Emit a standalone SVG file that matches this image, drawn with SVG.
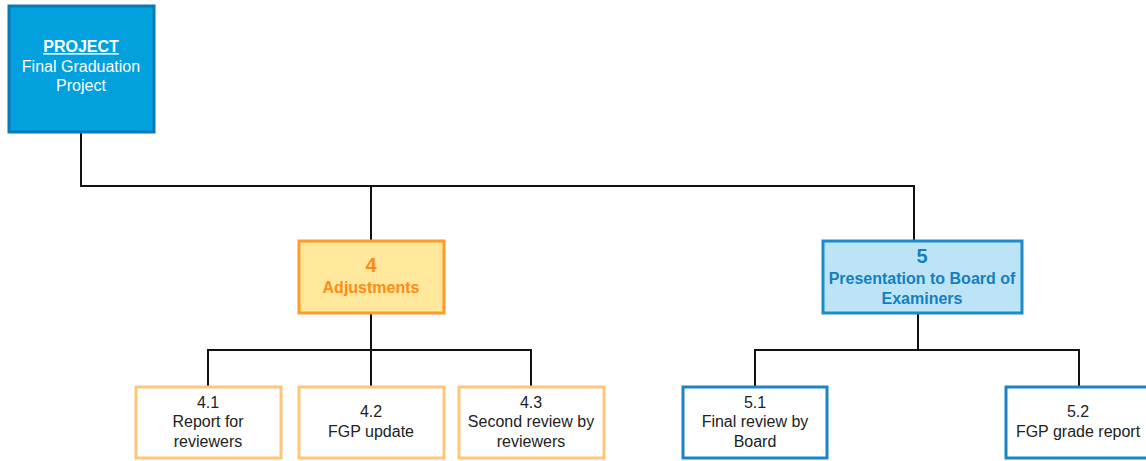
<svg xmlns="http://www.w3.org/2000/svg" width="1146" height="461" viewBox="0 0 1146 461">
  <style>
    text { font-family: "Liberation Sans", Arial, sans-serif; font-size: 16px; text-anchor: middle; }
    .wire { fill: none; stroke: #111; stroke-width: 2; }
    .root rect { fill: #02a0dd; stroke: #0a79b8; stroke-width: 3; }
    .root text { fill: #ffffff; }
    .orange rect { fill: #ffe89c; stroke: #ff9b28; stroke-width: 3; }
    .orange text { fill: #ff8a14; font-weight: bold; }
    .blue rect { fill: #bde4f6; stroke: #1a8ccc; stroke-width: 3; }
    .blue text { fill: #147fc0; font-weight: bold; }
    .leaf-o rect { fill: #ffffff; stroke: #ffc67a; stroke-width: 3; }
    .leaf-b rect { fill: #ffffff; stroke: #1a84c6; stroke-width: 3; }
    .leaf-o text, .leaf-b text { fill: #222; }
    .num { font-size: 20px; }
  </style>

  <g id="connectors">
    <path class="wire" d="M81 132 V186 H914 V240 M371 186 V240"/>
    <path class="wire" d="M371 313 V350 M208 386 V350 H531 V386 M371 350 V386"/>
    <path class="wire" d="M918 313 V350 M755 386 V350 H1079 V386"/>
  </g>

  <g id="project" class="root">
    <rect x="9" y="6" width="145" height="126"/>
    <text x="81" y="52" font-weight="bold" text-decoration="underline">PROJECT</text>
    <text x="81" y="72">Final Graduation</text>
    <text x="81" y="91">Project</text>
  </g>

  <g id="n4" class="orange">
    <rect x="299" y="241" width="145" height="72"/>
    <text class="num" x="371" y="272">4</text>
    <text x="371" y="293">Adjustments</text>
  </g>

  <g id="n5" class="blue">
    <rect x="823" y="241" width="199" height="72"/>
    <text class="num" x="922" y="263">5</text>
    <text x="922" y="284">Presentation to Board of</text>
    <text x="922" y="304">Examiners</text>
  </g>

  <g id="n41" class="leaf-o">
    <rect x="136" y="387" width="145" height="71"/>
    <text x="208" y="408">4.1</text>
    <text x="208" y="427">Report for</text>
    <text x="208" y="447">reviewers</text>
  </g>

  <g id="n42" class="leaf-o">
    <rect x="299" y="387" width="145" height="71"/>
    <text x="371" y="417">4.2</text>
    <text x="371" y="437">FGP update</text>
  </g>

  <g id="n43" class="leaf-o">
    <rect x="459" y="387" width="145" height="71"/>
    <text x="531" y="408">4.3</text>
    <text x="531" y="427">Second review by</text>
    <text x="531" y="447">reviewers</text>
  </g>

  <g id="n51" class="leaf-b">
    <rect x="683" y="387" width="144" height="71"/>
    <text x="755" y="408">5.1</text>
    <text x="755" y="427">Final review by</text>
    <text x="755" y="447">Board</text>
  </g>

  <g id="n52" class="leaf-b">
    <rect x="1006" y="387" width="145" height="71"/>
    <text x="1078" y="417">5.2</text>
    <text x="1078" y="437">FGP grade report</text>
  </g>
</svg>
